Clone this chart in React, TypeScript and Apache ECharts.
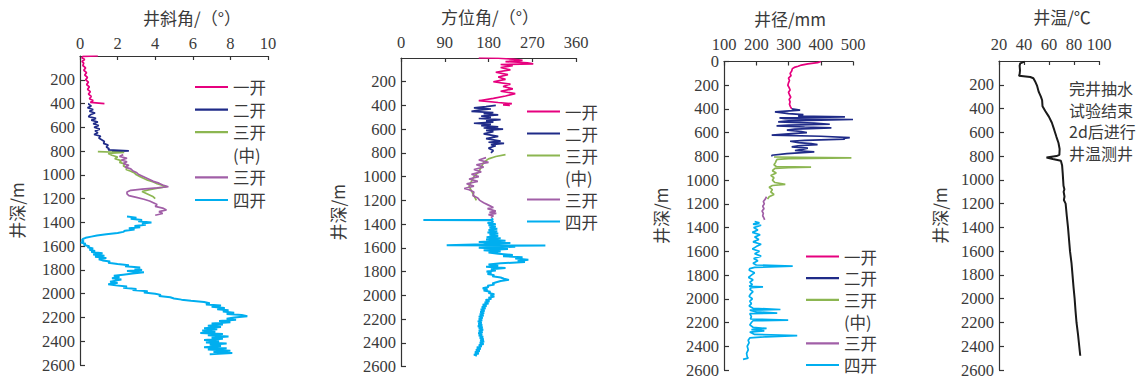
import React, { useEffect, useRef } from "react";
import * as echarts from "echarts";

// ---------- labels ----------
const SECTION_NAMES = ["一开", "二开", "三开\n(中)", "三开", "四开"];
const SECTION_COLORS = ["#e6007e", "#1f2b88", "#8cb651", "#a15fa7", "#00aeef"];
const PANEL_TITLES = ["井斜角/（°）", "方位角/（°）", "井径/mm", "井温/℃"];
const DEPTH_NAME = "井深/m";
const TEMP_NOTE = ["完井抽水", "试验结束", "2d后进行", "井温测井"];

// axis ranges [min, max, interval]
const DEPTH_RANGE = [0, 2600, 200];
const INCL_RANGE = [0, 10, 2];
const AZI_RANGE = [0, 360, 90];
const CAL_RANGE = [100, 500, 100];
const TEMP_RANGE = [20, 100, 20];

// ---------- 井斜角 (deg) : [depth, value] ----------
const incl1: number[][] = [[0,0.95],[3,0.15],[15,0.1],[30,0.25],[45,0.1],[60,0.2],[80,0.15],[100,0.3],[120,0.2],[140,0.35],[160,0.25],[180,0.4],[200,0.3],[220,0.45],[240,0.35],[260,0.5],[280,0.4],[300,0.55],[320,0.45],[340,0.6],[360,0.5],[375,0.7],[390,0.55],[400,1.3]];
const incl2: number[][] = [[400,0.5],[405,0.45],[420,0.6],[435,0.4],[450,0.7],[465,0.5],[480,0.8],[495,0.55],[510,0.45],[525,0.85],[540,0.6],[555,0.95],[570,0.7],[585,1.0],[600,0.75],[615,1.05],[630,0.8],[645,0.95],[660,0.75],[675,1.1],[690,1.0],[705,1.15],[720,1.3],[735,1.25],[750,1.5],[765,1.4],[780,1.55],[790,1.5],[798,2.6],[802,1.7]];
const incl3m: number[][] = [[805,0.95],[812,2.35],[820,1.5],[835,1.7],[850,2.0],[865,1.85],[880,2.2],[895,2.1],[910,2.4],[925,2.3],[940,2.5],[955,2.45],[970,2.7],[985,2.9],[1000,3.0],[1015,3.2],[1030,3.4],[1045,3.6],[1060,3.9],[1075,4.1],[1090,4.4],[1100,4.6],[1110,4.2],[1125,3.7],[1140,3.3],[1155,3.5],[1170,3.7],[1185,3.9],[1200,4.0]];
const incl3: number[][] = [[830,2.3],[845,2.1],[860,2.5],[875,2.2],[890,2.5],[905,2.3],[920,2.6],[935,2.4],[950,2.7],[965,2.8],[980,3.0],[995,3.1],[1010,3.3],[1025,3.5],[1040,3.7],[1055,3.9],[1070,4.2],[1085,4.4],[1100,4.7],[1110,4.1],[1120,3.3],[1130,2.7],[1145,2.5],[1160,2.5],[1175,2.6],[1190,3.0],[1205,3.4],[1220,3.7],[1235,3.9],[1250,4.1],[1265,4.0],[1280,4.4],[1295,4.6],[1310,4.2],[1325,4.4],[1340,4.0]];
const incl4: number[][] = [[1350,2.5],[1360,3.0],[1370,2.7],[1380,3.3],[1390,3.1],[1400,3.8],[1410,3.3],[1420,3.5],[1430,2.9],[1440,3.2],[1450,2.6],[1460,2.9],[1470,2.4],[1480,2.3],[1490,2.0],[1500,1.4],[1510,0.9],[1520,0.6],[1530,0.3],[1540,0.15],[1550,0.1],[1560,0.2],[1570,0.05],[1580,0.3],[1590,0.2],[1600,0.5],[1610,0.4],[1620,0.7],[1630,0.5],[1640,0.8],[1650,0.6],[1660,1.2],[1670,0.7],[1680,1.3],[1690,0.8],[1700,1.4],[1710,1.0],[1720,1.2],[1730,1.6],[1740,1.5],[1750,2.0],[1760,2.6],[1770,2.4],[1780,3.2],[1790,2.9],[1800,3.3],[1810,2.5],[1820,3.4],[1830,2.8],[1840,2.3],[1850,1.8],[1860,2.1],[1870,1.7],[1880,2.2],[1890,1.9],[1900,1.6],[1910,2.0],[1920,1.5],[1930,1.9],[1940,2.5],[1950,2.3],[1960,3.0],[1970,2.8],[1980,3.6],[1990,3.4],[2000,4.0],[2010,4.3],[2020,4.2],[2030,4.8],[2040,5.0],[2050,5.4],[2060,5.9],[2070,6.6],[2080,6.9],[2090,6.7],[2100,7.5],[2110,7.0],[2120,7.7],[2130,7.3],[2140,7.9],[2150,7.6],[2160,8.2],[2170,7.8],[2180,8.6],[2190,8.9],[2200,8.2],[2210,7.8],[2220,8.3],[2230,7.4],[2240,8.0],[2250,7.0],[2260,7.6],[2270,6.8],[2280,7.5],[2290,6.6],[2300,7.3],[2310,6.5],[2320,7.2],[2330,6.4],[2340,7.6],[2350,6.8],[2360,7.9],[2370,7.0],[2380,7.6],[2390,6.6],[2400,7.4],[2410,6.7],[2420,7.8],[2430,6.9],[2440,7.5],[2450,6.6],[2460,7.8],[2470,6.8],[2480,8.0],[2490,7.1],[2500,8.1],[2510,6.9]];

// ---------- 方位角 (deg) ----------
const azi1: number[][] = [[0,160],[2,200],[10,230],[20,250],[30,215],[40,260],[50,272],[55,205],[65,230],[80,205],[100,225],[120,195],[140,220],[160,200],[180,215],[200,190],[220,225],[240,210],[260,230],[280,205],[300,235],[320,215],[340,190],[360,160],[375,200],[385,228],[395,210],[400,224]];
const azi2: number[][] = [[400,195],[410,175],[420,150],[430,185],[440,160],[450,145],[460,190],[470,170],[480,200],[490,165],[500,185],[510,160],[520,205],[530,175],[540,190],[550,150],[560,185],[570,165],[580,200],[590,170],[600,210],[610,175],[620,190],[640,170],[660,200],[680,175],[700,205],[710,180],[720,212],[730,185],[740,195],[760,180],[780,190],[800,185]];
const azi3m: number[][] = [[815,215],[830,195],[850,180],[880,170],[920,165],[960,160],[1000,150],[1040,145],[1080,140],[1120,145],[1160,150],[1200,155]];
const azi3: number[][] = [[840,175],[860,160],[880,180],[900,155],[920,170],[940,150],[960,165],[980,145],[1000,160],[1020,140],[1040,158],[1060,135],[1080,150],[1100,130],[1110,140],[1130,150],[1160,148],[1180,158],[1200,162],[1220,170],[1240,180],[1260,190],[1270,178],[1290,195],[1300,182],[1310,196],[1320,180],[1330,190],[1345,185]];
const azi4: number[][] = [[1355,190],[1363,185],[1365,46],[1367,185],[1380,190],[1390,178],[1400,195],[1410,180],[1420,195],[1430,182],[1440,198],[1450,180],[1460,198],[1470,178],[1480,200],[1490,182],[1500,200],[1510,176],[1520,205],[1530,175],[1540,215],[1550,160],[1560,225],[1570,170],[1578,94],[1581,297],[1584,190],[1590,235],[1600,160],[1610,220],[1620,170],[1630,205],[1640,180],[1650,200],[1660,230],[1670,210],[1680,250],[1690,235],[1700,262],[1710,240],[1720,255],[1730,205],[1740,180],[1750,200],[1760,175],[1770,215],[1780,185],[1790,195],[1800,176],[1810,186],[1820,178],[1830,192],[1840,188],[1850,205],[1860,212],[1870,222],[1880,205],[1890,196],[1900,188],[1910,192],[1920,178],[1930,180],[1940,168],[1950,178],[1960,170],[1970,184],[1980,180],[1990,192],[2000,184],[2010,192],[2020,180],[2030,186],[2040,174],[2050,182],[2060,172],[2070,180],[2080,168],[2090,176],[2100,166],[2110,174],[2120,164],[2130,172],[2140,163],[2150,171],[2160,162],[2170,170],[2180,160],[2190,168],[2200,160],[2210,167],[2220,158],[2230,166],[2240,159],[2250,167],[2260,158],[2270,168],[2280,160],[2290,169],[2300,160],[2310,168],[2320,159],[2330,167],[2340,160],[2350,169],[2360,162],[2370,170],[2380,163],[2390,171],[2400,162],[2410,170],[2420,160],[2430,166],[2440,156],[2450,164],[2460,154],[2470,162],[2480,152],[2490,160],[2500,150],[2510,156]];

// ---------- 井径 (mm) ----------
const cal1: number[][] = [[0,400],[10,390],[20,360],[30,340],[40,330],[50,318],[60,312],[80,310],[100,305],[120,308],[140,300],[160,303],[180,300],[200,298],[220,302],[240,305],[260,300],[280,303],[300,307],[320,302],[340,305],[360,303],[380,306],[400,310]];
const cal2: number[][] = [[400,310],[410,336],[425,258],[440,300],[447,346],[460,330],[467,475],[475,272],[481,290],[489,500],[500,300],[509,268],[520,380],[529,428],[537,300],[543,263],[552,350],[560,433],[570,320],[579,295],[590,340],[599,357],[610,300],[621,248],[630,400],[641,490],[648,470],[655,475],[664,350],[672,305],[683,331],[692,370],[700,390],[710,330],[720,310],[730,360],[739,346],[750,320],[762,380],[776,295],[790,248],[800,250]];
const cal3m: number[][] = [[805,255],[812,495],[818,300],[825,265],[835,262],[850,260],[870,255],[885,262],[890,370],[895,300],[900,258],[920,250],[940,262],[960,245],[980,255],[1000,250],[1020,258],[1035,290],[1045,250],[1060,240],[1080,250],[1100,245],[1120,255],[1140,240],[1160,235]];
const cal3: number[][] = [[1140,232],[1160,228],[1180,222],[1200,225],[1220,220],[1240,224],[1260,218],[1280,222],[1300,220],[1320,224],[1335,226]];
const cal4: number[][] = [[1350,195],[1360,210],[1370,190],[1380,215],[1400,192],[1420,205],[1440,188],[1460,212],[1480,195],[1500,208],[1520,190],[1540,215],[1560,200],[1580,188],[1600,210],[1620,195],[1640,215],[1660,192],[1680,205],[1700,190],[1715,200],[1725,313],[1735,195],[1745,180],[1760,178],[1780,195],[1800,185],[1820,176],[1840,190],[1860,180],[1880,188],[1895,178],[1900,221],[1905,185],[1920,180],[1940,190],[1960,182],[1980,178],[2000,188],[2020,180],[2040,185],[2060,178],[2080,190],[2090,275],[2095,180],[2110,200],[2120,265],[2125,180],[2150,185],[2170,182],[2180,299],[2185,190],[2200,185],[2220,180],[2240,190],[2250,232],[2260,185],[2270,225],[2280,180],[2300,195],[2310,327],[2320,230],[2330,180],[2350,175],[2370,178],[2400,172],[2430,175],[2460,170],[2490,172],[2500,175],[2510,159]];

// ---------- 井温 (°C) ----------
const temp: number[][] = [[5,40.5],[20,37],[40,36.5],[80,36.8],[110,36.5],[125,36],[135,45],[145,47.5],[170,48.8],[210,50.5],[260,51.8],[300,53.5],[330,54.5],[380,54.8],[420,57],[470,60],[520,62.3],[580,64.2],[640,66],[690,67.6],[740,68.5],[790,68.3],[800,66],[812,58],[825,63],[840,69.5],[880,70.5],[950,71],[1000,71.3],[1050,71.6],[1080,72.3],[1100,71.7],[1140,72.4],[1170,71.9],[1200,73.3],[1300,74.2],[1400,75.2],[1500,76],[1600,76.8],[1700,78],[1800,78.8],[1900,79.6],[2000,80.5],[2100,81.2],[2200,82],[2300,83.2],[2400,84.2],[2480,85]];

const NUM_FONT = "Liberation Serif";
const CJK_FONT = "Noto Sans CJK SC";
const AXIS_COLOR = "#333";
const TEXT_COLOR = "#3a3a3a";

// layout per panel
const GRIDS = [
  { left: 80, top: 56, width: 188, height: 309 },
  { left: 401, top: 58, width: 175, height: 308.5 },
  { left: 724, top: 61.5, width: 129, height: 308.5 },
  { left: 999, top: 61, width: 100, height: 309 },
];

export default function App() {
  const ref = useRef<HTMLDivElement>(null);
  useEffect(() => {
    if (!ref.current) return;
    const chart = echarts.init(ref.current, undefined, { renderer: "svg" });

    const xRanges = [INCL_RANGE, AZI_RANGE, CAL_RANGE, TEMP_RANGE];
    const titlePad = [36, 3, 3, 26];
    const titleGap = [30, 33, 35, 36];
    const xLabelMargin = [4, 7, 9, 8];
    const yNameGap = [55, 55, 55, 51];

    const xAxis = xRanges.map((r, i) => ({
      gridIndex: i,
      type: "value",
      position: "top",
      min: r[0],
      max: r[1],
      interval: r[2],
      name: PANEL_TITLES[i],
      nameLocation: "middle",
      nameGap: titleGap[i],
      nameTextStyle: { fontFamily: CJK_FONT, fontSize: 17, color: TEXT_COLOR, padding: [0, 0, 0, titlePad[i]] },
      axisLine: { show: true, onZero: false, lineStyle: { color: AXIS_COLOR, width: 1.2 } },
      axisTick: { show: true, inside: true, length: 4, lineStyle: { color: AXIS_COLOR, width: 1.2 } },
      axisLabel: { fontFamily: NUM_FONT, fontSize: 16.5, color: TEXT_COLOR, margin: xLabelMargin[i], formatter: (v: number) => String(v) },
      splitLine: { show: false },
    }));

    const yAxis = GRIDS.map((_, i) => ({
      gridIndex: i,
      type: "value",
      inverse: true,
      min: DEPTH_RANGE[0],
      max: DEPTH_RANGE[1],
      interval: DEPTH_RANGE[2],
      name: DEPTH_NAME,
      nameLocation: "middle",
      nameGap: yNameGap[i],
      nameTextStyle: { fontFamily: CJK_FONT, fontSize: 17, color: TEXT_COLOR },
      axisLine: { show: true, onZero: false, lineStyle: { color: AXIS_COLOR, width: 1.2 } },
      axisTick: { show: true, inside: true, length: 5, lineStyle: { color: AXIS_COLOR, width: 1.2 } },
      axisLabel: { fontFamily: NUM_FONT, fontSize: 16.5, color: TEXT_COLOR, margin: 5, showMinLabel: i === 2, formatter: (v: number) => String(v) },
      splitLine: { show: false },
    }));

    const mk = (name: string, data: number[][], color: string, gi: number, width = 1.6) => ({
      name,
      type: "line",
      xAxisIndex: gi,
      yAxisIndex: gi,
      data: data.map(([d, v]) => [v, d]),
      showSymbol: false,
      symbol: "none",
      lineStyle: { color, width },
      itemStyle: { color },
      silent: true,
      clip: true,
    });

    const panels = [
      [incl1, incl2, incl3m, incl3, incl4],
      [azi1, azi2, azi3m, azi3, azi4],
      [cal1, cal2, cal3m, cal3, cal4],
    ];
    const series: any[] = [];
    panels.forEach((sets, gi) => {
      sets.forEach((d, k) =>
        series.push(mk(SECTION_NAMES[k].replace("\n", ""), d, SECTION_COLORS[k], gi, k === 4 && gi < 2 ? 2 : 1.7))
      );
    });
    series.push(mk("井温", temp, "#1a1a1a", 3, 2));

    // legends drawn as graphic
    const legendPos = [
      { x: 195, y0: 87, gap: 22.6 },
      { x: 527, y0: 111.5, gap: 22 },
      { x: 806, y0: 256.5, gap: 21.7 },
    ];
    const textEl = (x: number, y: number, text: string, size: number) => ({
      type: "text",
      x,
      y,
      style: {
        text,
        fill: TEXT_COLOR,
        fontSize: size,
        fontFamily: CJK_FONT,
        verticalAlign: "middle",
        textVerticalAlign: "middle",
      },
      silent: true,
    });
    const graphic: any[] = [];
    legendPos.forEach((p) => {
      let row = 0;
      SECTION_NAMES.forEach((nm, k) => {
        const y = p.y0 + row * p.gap;
        graphic.push({
          type: "line",
          shape: { x1: p.x, y1: y, x2: p.x + 33, y2: y },
          style: { stroke: SECTION_COLORS[k], lineWidth: 2.2 },
          silent: true,
        });
        nm.split("\n").forEach((part, j) => {
          graphic.push(textEl(p.x + 38, y + j * p.gap, part, 16.5));
        });
        row += nm.split("\n").length;
      });
    });
    TEMP_NOTE.forEach((line, j) => graphic.push(textEl(1069, 87.8 + j * 21.7, line, 16)));

    chart.setOption({
      animation: false,
      backgroundColor: "#ffffff",
      grid: GRIDS.map((g) => ({ ...g, containLabel: false })),
      xAxis,
      yAxis,
      series,
      graphic,
    });
    return () => chart.dispose();
  }, []);

  return (
    <div
      ref={ref}
      style={{ position: "fixed", left: 0, top: 0, width: 1146, height: 383, background: "#fff" }}
    />
  );
}
